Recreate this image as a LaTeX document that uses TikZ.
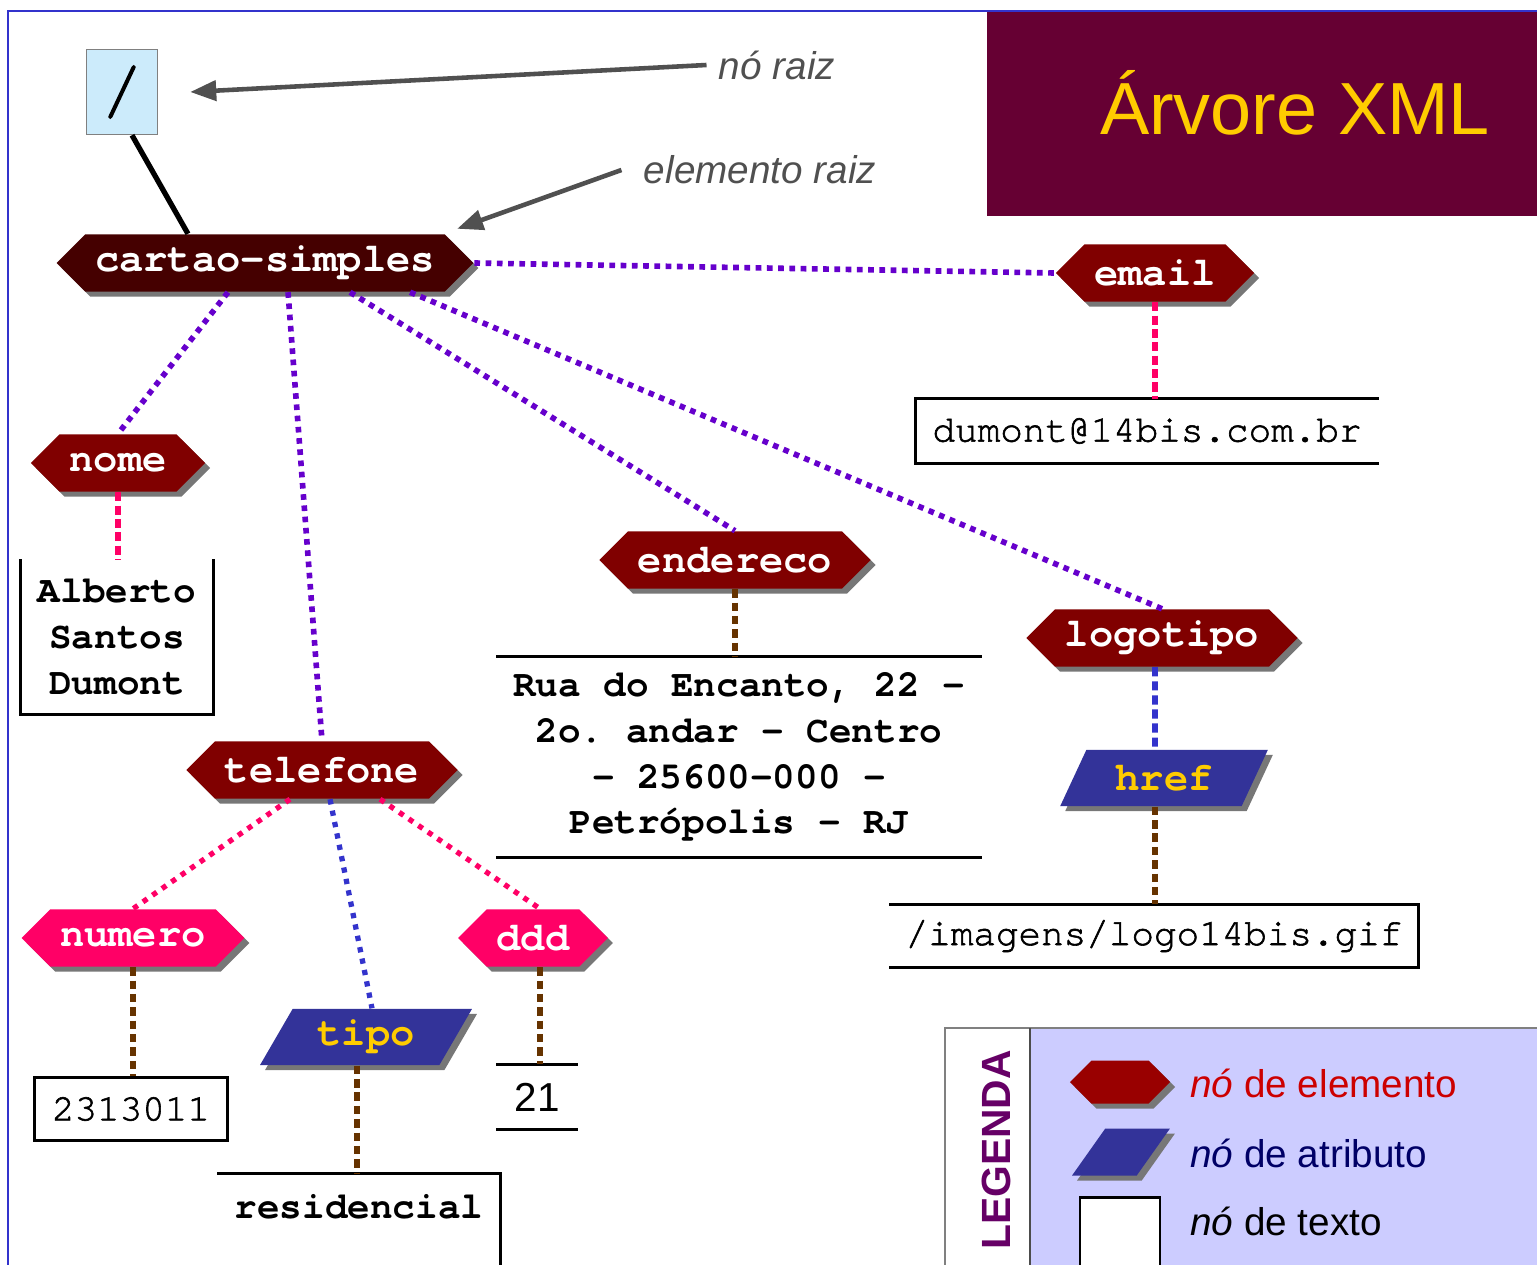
\documentclass[tikz,border=0pt]{standalone}
\usepackage{fontspec}
\setmainfont{Liberation Sans}
\setmonofont{TeX Gyre Cursor}
\newfontfamily\medmono{TeX Gyre Cursor}[FakeBold=1.6]
\usepackage{tikz}
\usetikzlibrary{arrows.meta,positioning,shapes,shadows}
\definecolor{framecol}{HTML}{3333CC}
\definecolor{titlebg}{HTML}{660033}
\definecolor{gold}{HTML}{FFCC00}
\definecolor{elemdark}{HTML}{450000}
\definecolor{elemred}{HTML}{800000}
\definecolor{elempink}{HTML}{FF0066}
\definecolor{attrblue}{HTML}{333399}
\definecolor{rootbg}{HTML}{CCEBFB}
\definecolor{dotpurple}{HTML}{6600CC}
\definecolor{linkpink}{HTML}{FF0066}
\definecolor{linkbrown}{HTML}{663300}
\definecolor{linkblue}{HTML}{3333CC}
\definecolor{shadowgray}{HTML}{777777}
\definecolor{annotgray}{HTML}{505050}
\definecolor{legendbg}{HTML}{CCCCFF}
\definecolor{legendpurple}{HTML}{660066}
\definecolor{legendred}{HTML}{990000}
\definecolor{legredtxt}{HTML}{CC0000}
\definecolor{legnavy}{HTML}{000066}
\newcommand\elemfont{\ttfamily\bfseries\fontsize{11.5}{12}\selectfont}
\newcommand\valfont{\medmono\fontsize{10.7}{13}\selectfont}
\newcommand\valbold{\ttfamily\bfseries\fontsize{10.7}{13}\selectfont}
\tikzset{
  elemnode/.style={
    signal, signal to=west and east, signal pointer angle=90,
    fill=elemred, text=white, font=\elemfont,
    minimum height=0.57cm, inner xsep=0.1cm, inner ysep=0pt,
    drop shadow={shadow xshift=0.05cm, shadow yshift=-0.05cm, fill=shadowgray, opacity=1}
  },
  attrnode/.style={
    trapezium, trapezium left angle=52, trapezium right angle=128,
    trapezium stretches=true,
    fill=attrblue, text=gold, font=\elemfont,
    minimum height=0.56cm, inner ysep=0pt,
    drop shadow={shadow xshift=0.05cm, shadow yshift=-0.05cm, fill=shadowgray, opacity=1}
  },
  valnode/.style={inner sep=0pt, align=center, font=\valfont},
  textline/.style={draw=black, line width=0.85pt},
  annot/.style={font=\itshape\fontsize{11}{12}\selectfont, text=annotgray},
  annotarrow/.style={draw=annotgray, line width=1.3pt, -{Triangle[length=0.26cm,width=0.2cm]}},
  purpledot/.style={draw=dotpurple, line width=1.6pt, dash pattern=on 1.6pt off 1.6pt},
  pinkdot/.style={draw=linkpink, line width=1.5pt, dash pattern=on 1.5pt off 1.8pt},
  bluedot/.style={draw=linkblue, line width=1.5pt, dash pattern=on 1.5pt off 1.8pt},
  pinkdash/.style={draw=linkpink, line width=1.8pt, dash pattern=on 2.6pt off 1.2pt},
  browndash/.style={draw=linkbrown, line width=1.6pt, dash pattern=on 2.4pt off 1.4pt},
  bluedash/.style={draw=linkblue, line width=1.6pt, dash pattern=on 2.6pt off 1.4pt},
  legtext/.style={font=\fontsize{11}{12}\selectfont, anchor=west}
}

\begin{document}
\begin{tikzpicture}[x=0.01cm,y=-0.01cm,>=Latex]
  \useasboundingbox (0,0) rectangle (1537,1264);
  \clip (0,0) rectangle (1537,1264);

  \draw[framecol,line width=0.7pt] (8,1300) -- (8,11) -- (1560,11);
  \fill[titlebg] (987,12) rectangle (1560,216);
  \node[font=\fontsize{21}{21}\selectfont, text=gold] (titulo) at (1295,103) {Árvore XML};

  % raiz
  \node[draw=gray, fill=rootbg, minimum width=0.71cm, minimum height=0.85cm,
        font=\medmono\fontsize{20}{20}\selectfont] (root) at (122,92) {/};
  \node[annot] (noraiz) at (777,65) {nó raiz};
  \node[annot] (elemraiz) at (760,170) {elemento raiz};

  \node[elemnode, fill=elemdark] (cartao) at (265,263) {cartao-simples};
  \foreach \nm/\px/\py in {email/1155/273, nome/118/463, endereco/735/560,
                           logotipo/1162/638, telefone/322/770} {
    \node[elemnode] (\nm) at (\px,\py) {\nm};
  }
  \node[elemnode, fill=elempink] (numero) at (133,938) {numero};
  \node[elemnode, fill=elempink] (ddd) at (533,938) {ddd};
  \node[attrnode, minimum width=2.08cm] (href) at (1164,778) {href};
  \node[attrnode, minimum width=2.12cm] (tipo) at (366,1037) {tipo};

  % valores
  \node[valnode, minimum width=4.62cm, minimum height=0.63cm] (dumont) at (1147,431) {dumont@14bis.com.br};
  \node[valnode, font=\valbold, minimum width=1.91cm, minimum height=1.54cm] (alberto) at (117,637) {Alberto\\Santos\\Dumont};
  \node[valnode, font=\valbold, minimum width=4.84cm, minimum height=1.99cm] (rua) at (739,757) {Rua do Encanto, 22 -\\2o. andar - Centro\\- 25600-000 -\\Petrópolis - RJ};
  \node[valnode, minimum width=5.28cm, minimum height=0.62cm] (imagens) at (1154,936) {/imagens/logo14bis.gif};
  \node[valnode, draw=black, line width=0.85pt, minimum width=1.93cm, minimum height=0.63cm] (num) at (131,1109) {2313011};
  \node[valnode, font=\fontsize{11.5}{12}\selectfont, minimum width=0.8cm, minimum height=0.64cm] (vinteum) at (537,1097) {21};
  \node[valnode, font=\valbold, minimum width=2.82cm, minimum height=0.65cm] (resid) at (359,1207) {residencial};

  \draw[textline] (dumont.north east) -- (dumont.north west) -- (dumont.south west) -- (dumont.south east);
  \draw[textline] (alberto.north west) -- (alberto.south west) -- (alberto.south east) -- (alberto.north east);
  \draw[textline] (rua.north west) -- (rua.north east) (rua.south west) -- (rua.south east);
  \draw[textline] (imagens.north west) -- (imagens.north east) -- (imagens.south east) -- (imagens.south west);
  \draw[textline] (vinteum.north west) -- (vinteum.north east) (vinteum.south west) -- (vinteum.south east);
  \draw[textline] (resid.north west) -- (resid.north east) -- ([yshift=-0.33cm]resid.south east);

  % ligacoes
  \draw[annotarrow] (noraiz.west) -- ([xshift=0.32cm]root.east);
  \draw[annotarrow] ([xshift=-0.1cm]elemraiz.west) -- ([shift={(0.12cm,0.05cm)}]cartao.north east);
  \draw[line width=1.5pt] ([xshift=0.1cm]root.south) -- ([xshift=-0.77cm]cartao.north);
  \draw[purpledot] (cartao.east) -- (email.west);
  \foreach \dx/\tgt in {-0.37/nome, 0.23/telefone, 0.85/endereco, 1.45/logotipo} {
    \draw[purpledot] ([xshift=\dx cm]cartao.south) -- (\tgt.north);
  }
  \draw[pinkdash] (email.south) -- (email.south |- dumont.north);
  \draw[pinkdash] (nome.south) -- (nome.south |- alberto.north);
  \draw[browndash] (endereco.south) -- (endereco.south |- rua.north);
  \draw[bluedash] ([xshift=-0.07cm]logotipo.south) -- ([xshift=-0.09cm]href.north);
  \draw[browndash] ([xshift=-0.09cm]href.south) -- ([xshift=-0.09cm]href.south |- imagens.north);
  \draw[pinkdot] ([xshift=-0.32cm]telefone.south) -- (numero.north);
  \draw[bluedot] ([xshift=0.08cm]telefone.south) -- ([xshift=0.06cm]tipo.north);
  \draw[pinkdot] ([xshift=0.58cm]telefone.south) -- ([xshift=0.07cm]ddd.north);
  \draw[browndash] (numero.south) -- (numero.south |- num.north);
  \draw[browndash] ([xshift=-0.09cm]tipo.south) -- ([xshift=-0.09cm]tipo.south |- resid.north);
  \draw[browndash] ([xshift=0.07cm]ddd.south) -- ([xshift=0.07cm]ddd.south |- vinteum.north);

  % legenda
  \draw[draw=gray, line width=0.7pt, fill=white] (945,1028) rectangle (1560,1300);
  \fill[legendbg] (1030,1029) rectangle (1560,1300);
  \draw[draw=gray!60!black, line width=0.7pt] (1030,1028) -- (1030,1300);
  \node[rotate=90, font=\bfseries\fontsize{11.6}{12}\selectfont, text=legendpurple] (legenda) at (996,1150) {LEGENDA};
  \node[elemnode, fill=legendred, minimum width=1cm, minimum height=0.43cm] (legelem) at (1120,1082) {\vphantom{x}};
  \node[attrnode, inner ysep=2pt, minimum width=0.98cm, minimum height=0.47cm] (legattr) at (1121,1152) {\vphantom{x}};
  \node[draw=black, line width=0.8pt, fill=white, minimum width=0.8cm, minimum height=0.75cm] (legval) at (1120,1235) {};
  \node[legtext, text=legredtxt] (txtelem) at (1178,1083) {\textit{nó} de elemento};
  \node[legtext, text=legnavy] (txtattr) at (1178,1153) {\textit{nó} de atributo};
  \node[legtext] (txtval) at (1178,1221) {\textit{nó} de texto};
\end{tikzpicture}
\end{document}
